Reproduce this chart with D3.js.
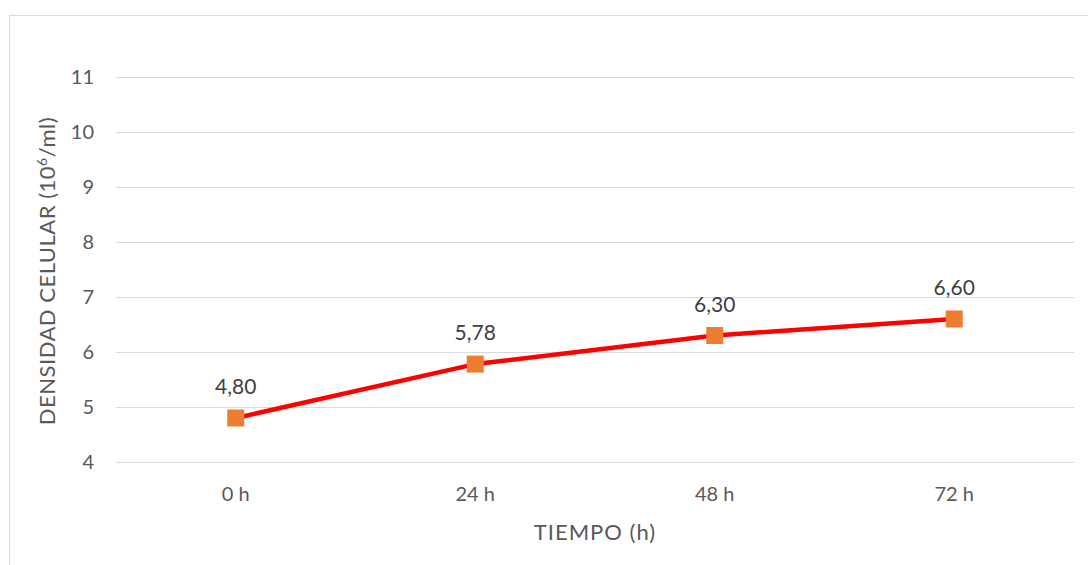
<!DOCTYPE html>
<html><head><meta charset="utf-8">
<script src="https://cdn.jsdelivr.net/npm/d3@7"></script>
<style>body{margin:0;background:#fff}svg{display:block}text{font-family:Lato,"Open Sans",sans-serif;fill:#595959}</style>
</head><body><svg id="c" width="1088" height="565"></svg>
<script>
const categories = ["0 h","24 h","48 h","72 h"];
const values = [4.80, 5.78, 6.30, 6.60];
const valueLabels = ["4,80","5,78","6,30","6,60"];
const yTicks = [4,5,6,7,8,9,10,11];

const svg = d3.select("#c");
svg.append("rect").attr("x",9.5).attr("y",15.5).attr("width",1100).attr("height",600)
  .attr("fill","#fff").attr("stroke","#d9d9d9").attr("stroke-width",1);

const x = d3.scaleBand().domain(categories).range([116,1074]);
const y = d3.scaleLinear().domain([4,11]).range([462,77]);

const grid = svg.append("g");
grid.selectAll("line").data(yTicks).join("line")
  .attr("x1",116).attr("x2",1074).attr("y1",d=>y(d)+0.5).attr("y2",d=>y(d)+0.5)
  .attr("stroke","#d9d9d9").attr("stroke-width",1);

svg.append("g").selectAll("text").data(yTicks).join("text")
  .attr("x",94).attr("y",d=>y(d)).attr("dy","0.35em").attr("text-anchor","end")
  .attr("font-size",20).text(d=>d);

svg.append("g").selectAll("text").data(categories).join("text")
  .attr("x",d=>x(d)+x.bandwidth()/2).attr("y",494).attr("dy","0.35em").attr("text-anchor","middle")
  .attr("font-size",20).text(d=>d);

const pts = categories.map((c,i)=>({c,v:values[i],l:valueLabels[i]}));
const line = d3.line().x(d=>x(d.c)+x.bandwidth()/2).y(d=>y(d.v));
svg.append("path").datum(pts).attr("d",line).attr("fill","none")
  .attr("stroke","#ff0000").attr("stroke-width",4.5).attr("stroke-linejoin","round");

svg.append("g").selectAll("rect").data(pts).join("rect")
  .attr("x",d=>x(d.c)+x.bandwidth()/2-8.5).attr("y",d=>y(d.v)-8.5)
  .attr("width",17).attr("height",17).attr("fill","#ed7d31");

svg.append("g").selectAll("text").data(pts).join("text")
  .attr("x",d=>x(d.c)+x.bandwidth()/2).attr("y",d=>y(d.v)-31).attr("dy","0.35em")
  .attr("text-anchor","middle").attr("font-size",21).style("fill","#404040").text(d=>d.l);

svg.append("text").attr("x",595).attr("y",532).attr("dy","0.35em").attr("text-anchor","middle")
  .attr("font-size",22).attr("letter-spacing",1).text("TIEMPO (h)");

const yt = svg.append("text").attr("transform","translate(47,271) rotate(-90)")
  .attr("dy","0.35em").attr("text-anchor","middle").attr("font-size",22).attr("letter-spacing",0.5);
yt.append("tspan").text("DENSIDAD CELULAR (10");
yt.append("tspan").attr("baseline-shift","super").attr("font-size",14).text("6");
yt.append("tspan").text("/ml)");
</script></body></html>
